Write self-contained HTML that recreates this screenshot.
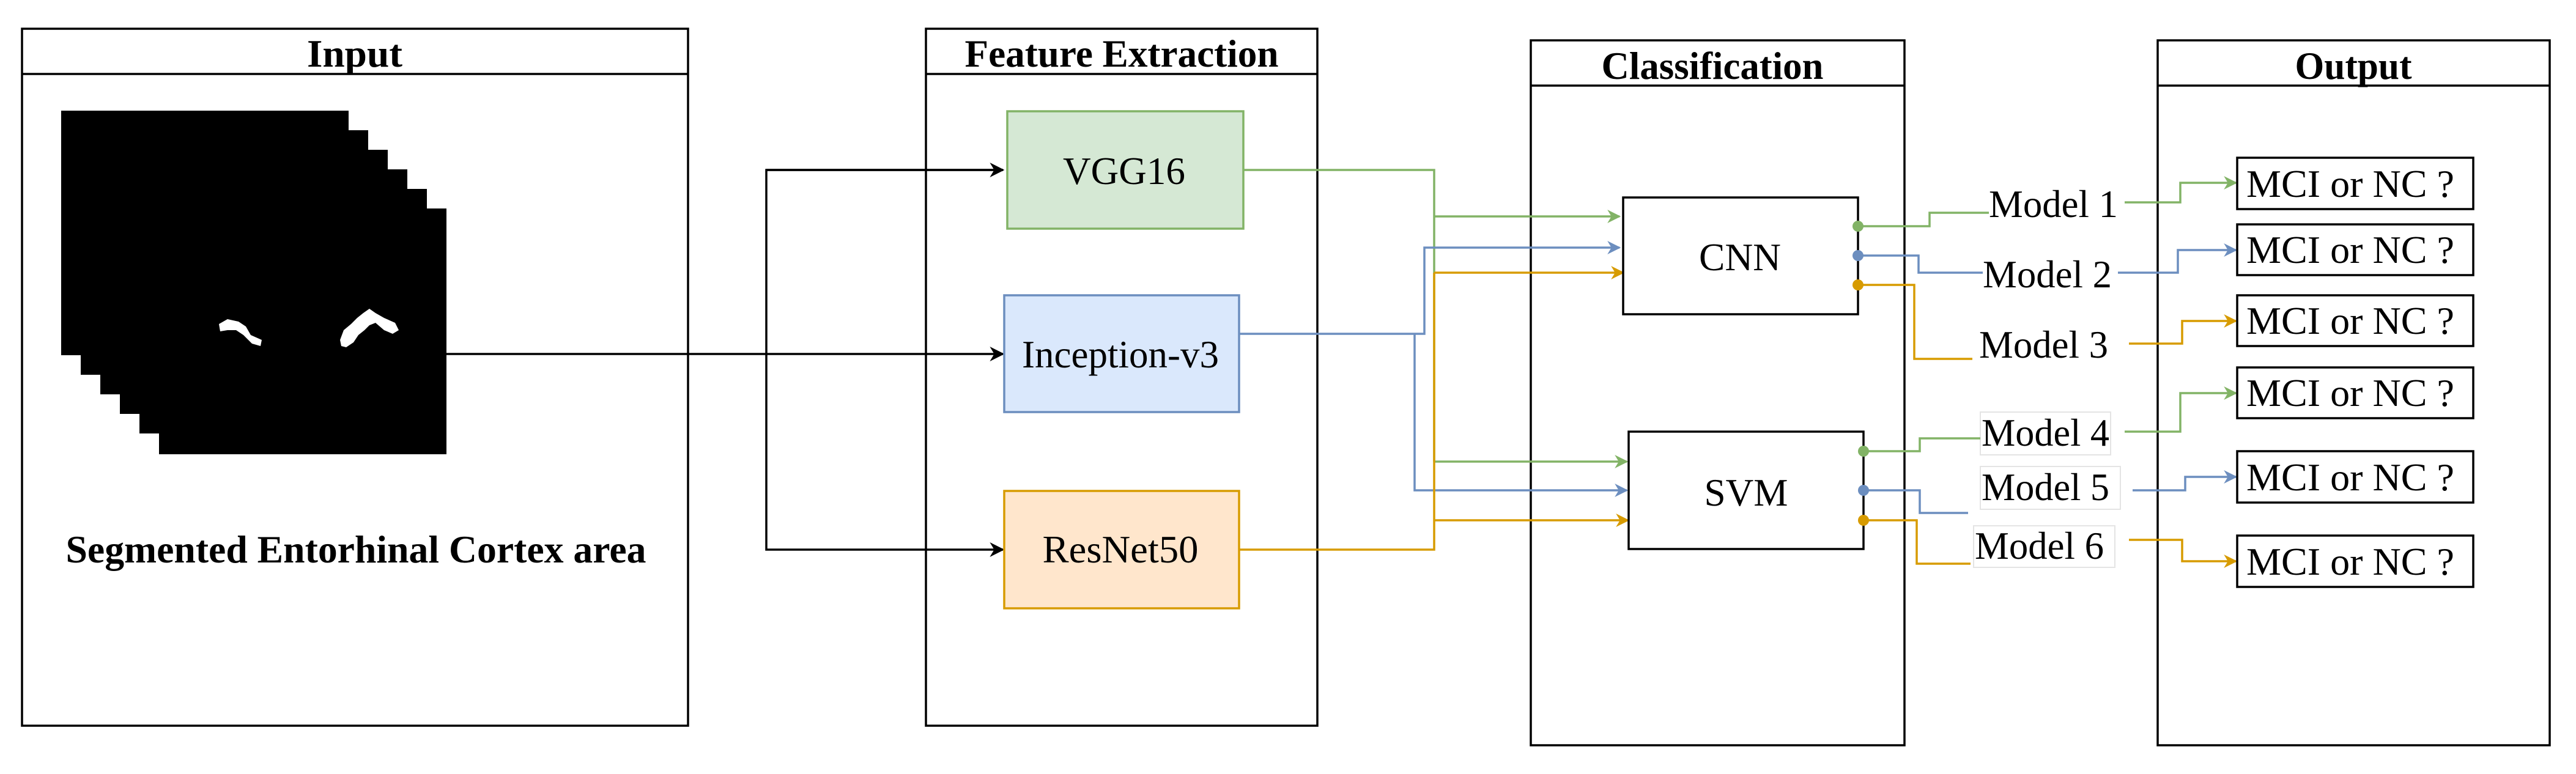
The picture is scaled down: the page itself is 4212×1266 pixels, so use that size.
<!DOCTYPE html>
<html><head><meta charset="utf-8"><style>
html,body{margin:0;padding:0;background:#fff}
svg{display:block}
text{font-family:"Liberation Serif",serif;font-size:64px;fill:#000}
.b{font-weight:bold}
</style></head><body>
<svg width="4212" height="1266" viewBox="0 0 4212 1266" xmlns="http://www.w3.org/2000/svg">
<defs>
<marker id="ag" viewBox="0 0 10 10" markerWidth="22" markerHeight="22" refX="9" refY="5" orient="auto" markerUnits="userSpaceOnUse"><path d="M0,0 L10,5 L0,10 L3,5 z" fill="#82b366"/></marker>
<marker id="ab" viewBox="0 0 10 10" markerWidth="22" markerHeight="22" refX="9" refY="5" orient="auto" markerUnits="userSpaceOnUse"><path d="M0,0 L10,5 L0,10 L3,5 z" fill="#6c8ebf"/></marker>
<marker id="ao" viewBox="0 0 10 10" markerWidth="22" markerHeight="22" refX="9" refY="5" orient="auto" markerUnits="userSpaceOnUse"><path d="M0,0 L10,5 L0,10 L3,5 z" fill="#d79b00"/></marker>
<marker id="ak2" viewBox="0 0 10 10" markerWidth="24" markerHeight="24" refX="9" refY="5" orient="auto" markerUnits="userSpaceOnUse"><path d="M0,0 L10,5 L0,10 L3,5 z" fill="#000"/></marker>
</defs>

<g fill="none" stroke="#000" stroke-width="3.5">
<rect x="36" y="47" width="1089" height="1140"/><line x1="36" y1="121" x2="1125" y2="121"/>
<rect x="1514" y="47" width="640" height="1140"/><line x1="1514" y1="121" x2="2154" y2="121"/>
<rect x="2503" y="66" width="611" height="1153"/><line x1="2503" y1="140" x2="3114" y2="140"/>
<rect x="3528" y="66" width="641" height="1153"/><line x1="3528" y1="140" x2="4169" y2="140"/>
</g>
<text class="b" x="580" y="109" text-anchor="middle" textLength="156" lengthAdjust="spacingAndGlyphs">Input</text>
<text class="b" x="1834" y="109" text-anchor="middle" textLength="513" lengthAdjust="spacingAndGlyphs">Feature Extraction</text>
<text class="b" x="2800" y="129" text-anchor="middle" textLength="363" lengthAdjust="spacingAndGlyphs">Classification</text>
<text class="b" x="3848" y="129" text-anchor="middle" textLength="191" lengthAdjust="spacingAndGlyphs">Output</text>

<g fill="#000">
<rect x="100" y="181" width="470" height="400"/>
<rect x="132" y="213" width="470" height="400"/>
<rect x="164" y="245" width="470" height="400"/>
<rect x="196" y="277" width="470" height="400"/>
<rect x="228" y="309" width="470" height="400"/>
<rect x="260" y="341" width="470" height="402"/>
</g>
<g fill="#fff">
<path d="M358,530 L372,522 L390,526 L402,534 L410,548 L428,556 L426,566 L412,562 L398,548 L386,540 L372,540 L360,542 Z"/>
<path d="M556,556 L562,540 L574,530 L584,520 L594,512 L604,505 L614,512 L628,520 L646,528 L652,540 L642,546 L628,540 L614,528 L604,532 L596,540 L586,548 L578,560 L566,568 L558,566 Z"/>
</g>
<text class="b" x="582" y="920" text-anchor="middle" textLength="949" lengthAdjust="spacingAndGlyphs">Segmented Entorhinal Cortex area</text>

<g fill="none" stroke="#000" stroke-width="3.5">
<line x1="730" y1="579" x2="1640" y2="579" marker-end="url(#ak2)"/>
<polyline points="1640,278 1253,278 1253,899 1640,899" marker-end="url(#ak2)"/>
<line x1="1253" y1="278" x2="1640" y2="278" marker-end="url(#ak2)"/>
</g>

<rect x="1647" y="182" width="386" height="192" fill="#d5e8d4" stroke="#82b366" stroke-width="3.5"/>
<rect x="1642" y="483" width="384" height="191" fill="#dae8fc" stroke="#6c8ebf" stroke-width="3.5"/>
<rect x="1642" y="803" width="384" height="192" fill="#ffe6cc" stroke="#d79b00" stroke-width="3.5"/>
<text x="1838" y="301" text-anchor="middle" textLength="200" lengthAdjust="spacingAndGlyphs">VGG16</text>
<text x="1832" y="601" text-anchor="middle" textLength="322" lengthAdjust="spacingAndGlyphs">Inception-v3</text>
<text x="1832" y="920" text-anchor="middle" textLength="255" lengthAdjust="spacingAndGlyphs">ResNet50</text>

<g fill="none" stroke-width="3.5">
<polyline stroke="#82b366" points="2033,278 2345,278 2345,755"/>
<line stroke="#82b366" x1="2345" y1="354" x2="2648" y2="354" marker-end="url(#ag)"/>
<line stroke="#82b366" x1="2345" y1="755" x2="2660" y2="755" marker-end="url(#ag)"/>
<polyline stroke="#6c8ebf" points="2026,546 2329,546 2329,405 2648,405" marker-end="url(#ab)"/>
<polyline stroke="#6c8ebf" points="2313,546 2313,802 2660,802" marker-end="url(#ab)"/>
<polyline stroke="#d79b00" points="2026,899 2345,899 2345,446"/>
<line stroke="#d79b00" x1="2345" y1="446" x2="2654" y2="446" marker-end="url(#ao)"/>
<line stroke="#d79b00" x1="2345" y1="851" x2="2662" y2="851" marker-end="url(#ao)"/>
</g>

<rect x="2654" y="323" width="384" height="191" fill="#fff" stroke="#000" stroke-width="3.5"/>
<rect x="2663" y="706" width="384" height="192" fill="#fff" stroke="#000" stroke-width="3.5"/>
<text x="2845" y="442" text-anchor="middle" textLength="134" lengthAdjust="spacingAndGlyphs">CNN</text>
<text x="2855" y="827" text-anchor="middle" textLength="137" lengthAdjust="spacingAndGlyphs">SVM</text>

<g fill="#fff" stroke="#e4e4e4" stroke-width="2">
<rect x="3238" y="674" width="213" height="70"/>
<rect x="3238" y="763" width="229" height="70"/>
<rect x="3227" y="860" width="231" height="68"/>
</g>

<g fill="none" stroke-width="3.5">
<polyline stroke="#82b366" points="3038,370 3155,370 3155,348 3252,348"/>
<polyline stroke="#82b366" points="3474,331 3565,331 3565,299 3656,299" marker-end="url(#ag)"/>
<polyline stroke="#6c8ebf" points="3038,418 3137,418 3137,446 3242,446"/>
<polyline stroke="#6c8ebf" points="3463,446 3561,446 3561,409 3656,409" marker-end="url(#ab)"/>
<polyline stroke="#d79b00" points="3038,466 3130,466 3130,587 3225,587"/>
<polyline stroke="#d79b00" points="3481,562 3568,562 3568,525 3656,525" marker-end="url(#ao)"/>
<polyline stroke="#82b366" points="3047,738 3139,738 3139,717 3238,717"/>
<polyline stroke="#82b366" points="3474,706 3565,706 3565,643 3656,643" marker-end="url(#ag)"/>
<polyline stroke="#6c8ebf" points="3047,802 3139,802 3139,839 3218,839"/>
<polyline stroke="#6c8ebf" points="3487,802 3573,802 3573,780 3656,780" marker-end="url(#ab)"/>
<polyline stroke="#d79b00" points="3047,851 3134,851 3134,922 3222,922"/>
<polyline stroke="#d79b00" points="3481,883 3568,883 3568,918 3656,918" marker-end="url(#ao)"/>
</g>
<circle cx="3038" cy="370" r="9" fill="#82b366"/>
<circle cx="3038" cy="418" r="9" fill="#6c8ebf"/>
<circle cx="3038" cy="466" r="9" fill="#d79b00"/>
<circle cx="3047" cy="738" r="9" fill="#82b366"/>
<circle cx="3047" cy="802" r="9" fill="#6c8ebf"/>
<circle cx="3047" cy="851" r="9" fill="#d79b00"/>

<text x="3252" y="355" textLength="211" lengthAdjust="spacingAndGlyphs">Model 1</text>
<text x="3242" y="470" textLength="211" lengthAdjust="spacingAndGlyphs">Model 2</text>
<text x="3236" y="585" textLength="211" lengthAdjust="spacingAndGlyphs">Model 3</text>
<text x="3240" y="729" textLength="209" lengthAdjust="spacingAndGlyphs">Model 4</text>
<text x="3240" y="818" textLength="209" lengthAdjust="spacingAndGlyphs">Model 5</text>
<text x="3229" y="914" textLength="211" lengthAdjust="spacingAndGlyphs">Model 6</text>

<g fill="#fff" stroke="#000" stroke-width="3.5">
<rect x="3658" y="258" width="386" height="84"/>
<rect x="3658" y="367" width="386" height="83"/>
<rect x="3658" y="483" width="386" height="83"/>
<rect x="3658" y="601" width="386" height="83"/>
<rect x="3658" y="738" width="386" height="84"/>
<rect x="3658" y="876" width="386" height="84"/>
</g>
<text x="3673" y="322" textLength="340" lengthAdjust="spacingAndGlyphs">MCI or NC ?</text>
<text x="3673" y="430" textLength="340" lengthAdjust="spacingAndGlyphs">MCI or NC ?</text>
<text x="3673" y="546" textLength="340" lengthAdjust="spacingAndGlyphs">MCI or NC ?</text>
<text x="3673" y="664" textLength="340" lengthAdjust="spacingAndGlyphs">MCI or NC ?</text>
<text x="3673" y="802" textLength="340" lengthAdjust="spacingAndGlyphs">MCI or NC ?</text>
<text x="3673" y="940" textLength="340" lengthAdjust="spacingAndGlyphs">MCI or NC ?</text>
</svg>
</body></html>
